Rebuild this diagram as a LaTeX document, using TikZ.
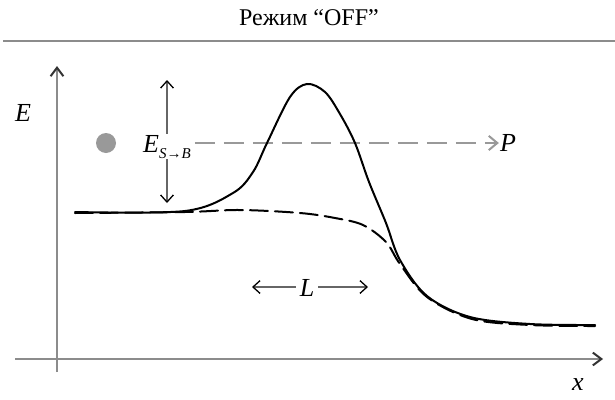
\documentclass[tikz,border=0pt]{standalone}
\usepackage{fontspec}
\setmainfont{Liberation Serif}
\usetikzlibrary{arrows.meta}
\definecolor{axisgray}{HTML}{8C8C8C}
\definecolor{dotgray}{HTML}{999999}
\newcommand{\esb}{\textit{E}\raisebox{-6pt}{\fontsize{15}{16}\selectfont\textit{S}→\textit{B}}}

\begin{document}
\begin{tikzpicture}[
  x=1pt, y=-1pt,
  every node/.style={font=\fontsize{26}{30}\selectfont, inner sep=1pt},
  axisline/.style={draw=axisgray, line width=2pt, -{Straight Barb[length=3mm,width=4.5mm,color=black!80]}},
  curve/.style={draw=black, line width=2pt, line cap=round},
  flow/.style={draw=dotgray, line width=2pt, dash pattern=on 20pt off 9pt,
               -{Straight Barb[length=3mm,width=5mm]}},
  gauge/.style={draw=black!60, line width=1.3pt, -{Straight Barb[length=2.5mm,width=4.5mm,color=black]}}
]
\useasboundingbox (0,0) rectangle (615,399);

\node (title) at (309,18) {\fontsize{24}{28}\selectfont Режим “OFF”};
\draw[axisgray, line width=2.4pt] (3,41) -- (615,41);

\coordinate (origin) at (57,359);
\coordinate (ytip) at (57,66);
\coordinate (xtip) at (603,359);
\draw[axisline] (57,372) -- (ytip);
\draw[axisline] (15,359) -- (xtip);
\node[font=\fontsize{26}{30}\selectfont\itshape] (elabel) at (23,113) {E};
\node[font=\fontsize{26}{30}\selectfont\itshape] (xlabel) at (578,385) {x};

\node[circle, fill=dotgray, minimum size=20pt, inner sep=0pt] (particle) at (106,143) {};
\node[anchor=base] (barrier) at (167,152) {\esb};
\coordinate (gtop) at (167,80);
\coordinate (gbot) at (167,203);
\draw[gauge] (barrier.north) -- (gtop);
\draw[gauge] (barrier.south) -- (gbot);

\node[font=\fontsize{26}{30}\selectfont\itshape] (pass) at (508,143) {P};
\draw[flow] (barrier.east |- particle) ++(3,0) -- (pass.west);

\draw[curve] plot[smooth, tension=0.55] coordinates {
  (75,212) (185,211) (233,193) (253,172) (267,143) (290,97) (307,84)
  (325,92) (340,114) (355,143) (369,182) (386,223) (400,260) (427,296)
  (470,317) (530,324) (595,325)};
\draw[curve, dash pattern=on 18pt off 7pt] plot[smooth, tension=0.55] coordinates {
  (75,213) (185,212) (240,210) (300,213) (335,218) (363,225) (386,242)
  (400,264) (427,297) (472,319) (530,325) (595,326)};

\node[font=\fontsize{26}{30}\selectfont\itshape] (span) at (307,288) {L};
\coordinate (sleft) at (252,287);
\coordinate (sright) at (368,287);
\draw[gauge] (span.west |- sleft) ++(-3,0) -- (sleft);
\draw[gauge] (span.east |- sright) ++(3,0) -- (sright);
\end{tikzpicture}
\end{document}
